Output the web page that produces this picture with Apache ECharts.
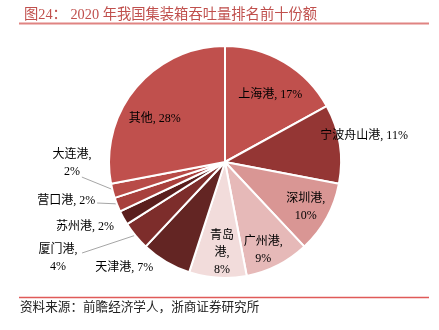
<!DOCTYPE html>
<html><head><meta charset="utf-8">
<script src="https://cdn.jsdelivr.net/npm/echarts@6/dist/echarts.min.js"></script>
<style>html,body{margin:0;padding:0;background:#fff}#c{width:439px;height:330px}</style>
</head><body><div id="c"></div>
<script>
var titleText = '图24： 2020 年我国集装箱吞吐量排名前十份额';
var sourceText = '资料来源：前瞻经济学人，浙商证券研究所';
var ports = ['上海港','宁波舟山港','深圳港','广州港','青岛港','天津港','厦门港','苏州港','营口港','大连港','其他'];
var shares = [17, 11, 10, 9, 8, 7, 4, 2, 2, 2, 28];

var colors = ['#C0504D','#943634','#D99694','#E6B9B8','#F2DCDB','#632523','#7D2D2B','#5A1E1D','#A8403D','#B84B47','#C0504D'];
var FONT = 'Liberation Serif, Noto Sans CJK SC';
var CX = 225, CY = 162, R = 116;
// label placement: radius factor, angle nudge (deg), line-break style, leader end offset
var place = {
  '上海港': {rf:0.70, da:3.3, fmt:'one'},
  '宁波舟山港': {rf:1.22, da:-1.6, fmt:'one'},
  '深圳港': {rf:0.80, da:0.8, fmt:'two'},
  '广州港': {rf:0.83, da:3.6, fmt:'two'},
  '青岛港': {rf:0.78, da:-1.7, fmt:'three'},
  '天津港': {rf:1.26, da:13, fmt:'one'},
  '厦门港': {rf:1.66, da:9.7, fmt:'two', line:[24,-5]},
  '苏州港': {rf:1.33, da:3.9, fmt:'one'},
  '营口港': {rf:1.41, da:7.8, fmt:'one', line:[31,2]},
  '大连港': {rf:1.32, da:14, fmt:'two', line:[10,14]},
  '其他': {rf:0.71, da:-8, fmt:'one'}
};
var total = shares.reduce(function(a,b){return a+b;},0);
var midAng = [], acc = 0;
shares.forEach(function(v){ midAng.push((acc + v/2)/total*360); acc += v; });

var data = ports.map(function(n,i){
  var p = place[n];
  var item = {name:n, value:shares[i], itemStyle:{color:colors[i]}};
  if (p.line) item.labelLine = {show:true};
  return item;
});

function fmt(params){
  var p = place[params.name], v = params.value + '%';
  if (p.fmt === 'two') return params.name + ',\n' + v;
  if (p.fmt === 'three') return params.name.slice(0,2) + '\n' + params.name.slice(2) + ',\n' + v;
  return params.name + ', ' + v;
}

var chart = echarts.init(document.getElementById('c'), null, {renderer:'canvas'});
chart.setOption({
  animation:false,
  backgroundColor:'#fff',
  title:{text:titleText, left:19, top:3, textStyle:{fontSize:14.3, fontWeight:'normal', color:'#C0504D', fontFamily:FONT}},
  graphic:[
    {type:'line', shape:{x1:19,y1:23.5,x2:429,y2:23.5}, style:{stroke:'#E08482', lineWidth:2}},
    {type:'line', shape:{x1:19,y1:297.5,x2:429,y2:297.5}, style:{stroke:'#E05A58', lineWidth:1.5}},
    {type:'text', left:20, top:301, style:{text:sourceText, fontSize:12.6, fill:'#222', fontFamily:FONT}}
  ],
  series:[{
    type:'pie',
    center:[CX, CY],
    radius:R,
    startAngle:90,
    clockwise:true,
    avoidLabelOverlap:false,
    itemStyle:{borderColor:'#fff', borderWidth:2},
    label:{show:true, position:'outside', formatter:fmt, color:'#000', fontSize:12, fontFamily:FONT, lineHeight:17, align:'center'},
    labelLine:{show:false, lineStyle:{color:'#A6A6A6', width:1}},
    emphasis:{disabled:true},
    labelLayout:function(params){
      var i = params.dataIndex, n = ports[i], p = place[n];
      var a = (midAng[i] + p.da) * Math.PI/180;
      var x = CX + R*p.rf*Math.sin(a), y = CY - R*p.rf*Math.cos(a);
      var out = {x:x, y:y, align:'center', verticalAlign:'middle'};
      if (p.line) {
        var ma = midAng[i]*Math.PI/180;
        var ex = CX + (R-2)*Math.sin(ma), ey = CY - (R-2)*Math.cos(ma);
        var lx = x + p.line[0], ly = y + p.line[1];
        out.labelLinePoints = [[ex,ey],[lx,ly],[lx,ly]];
      }
      return out;
    },
    data:data
  }]
});
</script></body></html>
